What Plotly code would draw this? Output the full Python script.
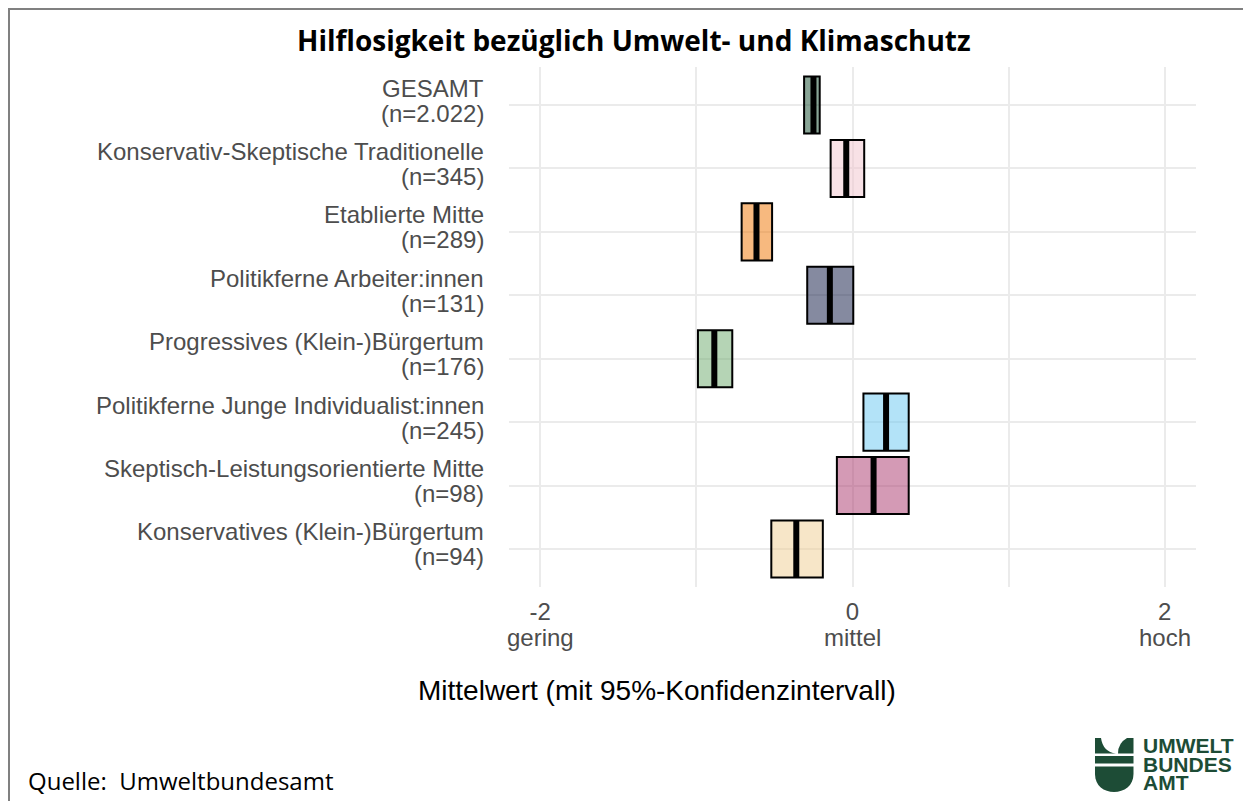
import plotly.graph_objects as go

# ---------------- data ----------------
groups = [
    "GESAMT",
    "Konservativ-Skeptische Traditionelle",
    "Etablierte Mitte",
    "Politikferne Arbeiter:innen",
    "Progressives (Klein-)Bürgertum",
    "Politikferne Junge Individualist:innen",
    "Skeptisch-Leistungsorientierte Mitte",
    "Konservatives (Klein-)Bürgertum",
]
n_labels = ["(n=2.022)", "(n=345)", "(n=289)", "(n=131)", "(n=176)", "(n=245)", "(n=98)", "(n=94)"]
means = [-0.25, -0.04, -0.615, -0.145, -0.885, 0.215, 0.135, -0.36]
lower = [-0.31, -0.14, -0.71, -0.29, -0.99, 0.07, -0.10, -0.52]
upper = [-0.21, 0.075, -0.515, 0.005, -0.77, 0.36, 0.36, -0.19]
colors = [
    "rgba(20,75,45,0.5)",
    "rgba(241,195,205,0.5)",
    "rgba(239,115,0,0.5)",
    "rgba(11,21,65,0.5)",
    "rgba(107,169,107,0.5)",
    "rgba(103,199,241,0.5)",
    "rgba(169,53,107,0.5)",
    "rgba(239,205,145,0.5)",
]
x_tickvals = [-2, 0, 2]
x_ticktext = ["-2", "0", "2"]
x_sublabels = ["gering", "mittel", "hoch"]

title = "Hilflosigkeit bezüglich Umwelt- und Klimaschutz"
x_title = "Mittelwert (mit 95%-Konfidenzintervall)"
source = "Quelle:\u00a0\u00a0Umweltbundesamt"
logo_lines = ["UMWELT", "BUNDES", "AMT"]

# ---------------- geometry ----------------
W, H = 1251, 801
L, R, T, B = 501, 1188, 59, 579  # plot area in figure px
PW, PH = R - L, B - T


def px(x):
    return (x - L) / PW


def py(y):
    return (B - y) / PH


pos = list(range(len(groups)))
BOXW = 0.9

fig = go.Figure()

fig.add_trace(go.Bar(
    orientation="h",
    y=pos,
    base=lower,
    x=[u - l for u, l in zip(upper, lower)],
    width=BOXW,
    marker=dict(color=colors, line=dict(color="black", width=2)),
    hoverinfo="skip",
    showlegend=False,
))

mx, my = [], []
for p, m in zip(pos, means):
    mx += [m, m, None]
    my += [p - BOXW / 2, p + BOXW / 2, None]
fig.add_trace(go.Scatter(
    x=mx, y=my, mode="lines",
    line=dict(color="black", width=6),
    hoverinfo="skip", showlegend=False,
))

grid = "#ebebeb"
tickfont = dict(family="Liberation Sans, Arial, sans-serif", size=24, color="#4d4d4d")

fig.update_xaxes(
    range=[-2.2, 2.2],
    tickvals=x_tickvals, ticktext=x_ticktext,
    showgrid=True, gridcolor=grid, gridwidth=2,
    minor=dict(tickvals=[-1, 1], showgrid=True, gridcolor=grid, gridwidth=2),
    zeroline=False, showline=False, ticks="",
    tickfont=tickfont, ticklabelstandoff=8,
)
fig.update_yaxes(
    range=[len(groups) - 1 + 0.6, -0.6],
    tickvals=pos, showticklabels=False,
    showgrid=True, gridcolor=grid, gridwidth=2,
    zeroline=False, showline=False, ticks="",
)

ann = []
for p, g, n in zip(pos, groups, n_labels):
    ann.append(dict(x=px(478), xref="paper", xanchor="right", y=p, yref="y",
                    yanchor="middle", yshift=17, text=g, showarrow=False, font=tickfont))
    ann.append(dict(x=px(478), xref="paper", xanchor="right", y=p, yref="y",
                    yanchor="middle", yshift=-8, text=n, showarrow=False, font=tickfont))
for v, s in zip(x_tickvals, x_sublabels):
    ann.append(dict(x=v, xref="x", xanchor="center", y=py(629), yref="paper",
                    yanchor="middle", text=s, showarrow=False, font=tickfont))
ann.append(dict(x=px(649), xref="paper", xanchor="center", y=py(682), yref="paper",
                yanchor="middle", text=x_title, showarrow=False,
                font=dict(family="Liberation Sans, Arial, sans-serif", size=28, color="black")))
ann.append(dict(x=px(625.5), xref="paper", xanchor="center", y=py(32), yref="paper",
                yanchor="middle", text="<b>" + title + "</b>", showarrow=False,
                font=dict(family="Open Sans, sans-serif", size=28, color="black")))
ann.append(dict(x=px(18), xref="paper", xanchor="left", y=py(772), yref="paper",
                yanchor="middle", text=source, showarrow=False,
                font=dict(family="Open Sans, sans-serif", size=24, color="black")))
logo_green = "#1d4c36"
for txt, yy in zip(logo_lines, [737.5, 756, 774.5]):
    ann.append(dict(x=px(1133), xref="paper", xanchor="left", y=py(yy), yref="paper",
                    yanchor="middle", text="<b>" + txt + "</b>", showarrow=False,
                    font=dict(family="Liberation Sans, Arial, sans-serif", size=21,
                              color=logo_green)))

shapes = []
# outer frame (top and left edges visible)
shapes.append(dict(type="line", xref="paper", yref="paper",
                   x0=px(0), x1=px(1300), y0=py(1), y1=py(1),
                   line=dict(color="#808080", width=2)))
shapes.append(dict(type="line", xref="paper", yref="paper",
                   x0=px(1), x1=px(1), y0=py(0), y1=py(850),
                   line=dict(color="#808080", width=2)))


def P(x, y):
    return f"{px(x):.5f},{py(y):.5f}"


leaf_l = f"M{P(1087,730)} L{P(1093,730)} Q{P(1095,744)} {P(1108,745.5)} L{P(1087,745.5)} Z"
leaf_r = f"M{P(1125.5,730)} L{P(1119,730)} Q{P(1110,735)} {P(1110,745.5)} L{P(1125.5,745.5)} Z"
bar = f"M{P(1087,748)} L{P(1125.5,748)} L{P(1125.5,755.5)} L{P(1087,755.5)} Z"
bowl = (f"M{P(1087,758.5)} L{P(1125.5,758.5)} L{P(1125.5,766)} "
        f"C{P(1125.5,778)} {P(1116,784)} {P(1106,784)} C{P(1096,784)} {P(1087,778)} {P(1087,766)} Z")
for d in [leaf_l, leaf_r, bar, bowl]:
    shapes.append(dict(type="path", xref="paper", yref="paper", path=d,
                       fillcolor=logo_green, line=dict(width=0)))

fig.update_layout(
    width=W, height=H,
    margin=dict(l=L, r=W - R, t=T, b=H - B, pad=0),
    paper_bgcolor="white", plot_bgcolor="white",
    annotations=ann, shapes=shapes,
    showlegend=False,
)

fig.write_html("out.html")
